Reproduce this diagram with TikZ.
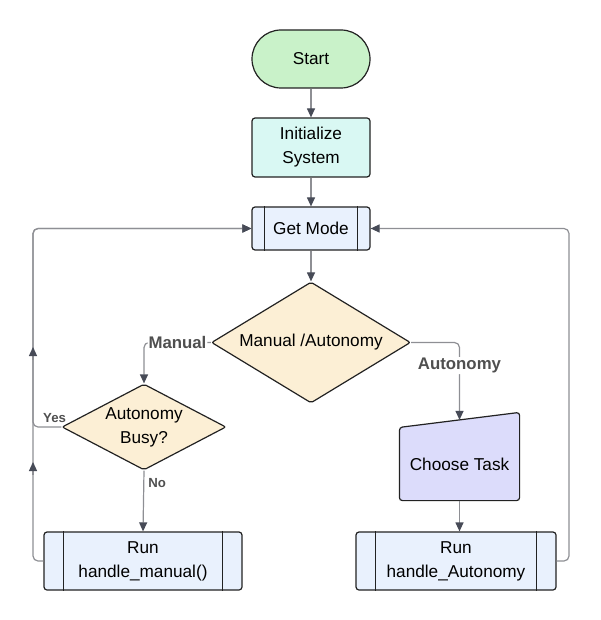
\documentclass[tikz,border=0pt]{standalone}
\usepackage{fontspec}
\setmainfont{Liberation Sans}
\usetikzlibrary{shapes.geometric,arrows.meta,calc}
\definecolor{startc}{HTML}{C9F2C9}
\definecolor{initc}{HTML}{D9F8F3}
\definecolor{subc}{HTML}{E9F1FD}
\definecolor{diac}{HTML}{FCEFD5}
\definecolor{taskc}{HTML}{DCDCFB}
\definecolor{bordc}{HTML}{222222}
\definecolor{linec}{HTML}{8E8F94}
\definecolor{tipc}{HTML}{474B57}
\definecolor{labc}{HTML}{4F4F4F}
\begin{document}
\begin{tikzpicture}[x=1pt,y=-1pt,
  base/.style={draw=bordc,line width=1.2pt,inner sep=0pt,align=center,
    font=\fontsize{17.2}{24}\selectfont},
  term/.style={base,fill=startc,rounded corners=29pt,minimum width=118pt,minimum height=58pt},
  proc/.style={base,fill=initc,rounded corners=3pt,minimum width=118pt,minimum height=59pt},
  subr/.style={base,fill=subc,rounded corners=3pt,minimum height=58pt},
  dia/.style={base,diamond,fill=diac,rounded corners=2pt},
  conn/.style={draw=linec,line width=1.2pt,rounded corners=5pt,
    -{Triangle[length=9pt,width=8pt,color=tipc]}},
  lab/.style={font=\fontsize{16.8}{20}\selectfont\bfseries,text=labc,fill=white,inner sep=1pt},
  slab/.style={font=\fontsize{13.2}{15}\selectfont\bfseries,text=labc,inner sep=1pt}
]
\useasboundingbox (0,0) rectangle (600,620);

\node[term] (start) at (311,59) {Start};
\node[proc] (init) at (311,147.5) {Initialize\\System};
\node[subr,minimum width=118pt,minimum height=43pt] (gm) at (311,228.5) {Get Mode};
\node[dia,aspect=1.65,minimum width=199pt,minimum height=121pt] (mode) at (311,342.5) {Manual /Autonomy};
\node[dia,aspect=1.9,minimum width=164pt,minimum height=86pt] (busy) at (144,427) {Autonomy\\Busy?};
\node[base,draw=none,minimum width=119pt,minimum height=72pt] (ct) at (459.5,464) {};
\node[subr,minimum width=198pt] (rm) at (143,561) {Run\\handle\_manual()};
\node[subr,minimum width=200pt] (ra) at (456,561) {Run\\handle\_Autonomy};

% choose task shape
\filldraw[fill=taskc,draw=bordc,line width=1.2pt,rounded corners=3pt] (ct.south west) -- (ct.north west) -- ($(ct.north east)+(0,-15)$) -- (ct.south east) -- cycle;
\node[font=\fontsize{17.2}{24}\selectfont] (cttext) at (ct) {Choose Task};
\coordinate (cttop) at ($(ct.north)+(0,-7.5)$);

% subroutine inner bars
\foreach \n/\d in {gm/13,rm/20,ra/20}{
  \draw[bordc,line width=1.2pt] ($(\n.north west)+(\d,0)$) -- ($(\n.south west)+(\d,0)$);
  \draw[bordc,line width=1.2pt] ($(\n.north east)+(-\d,0)$) -- ($(\n.south east)+(-\d,0)$);
}

\coordinate (Lt) at (33,228.5);
\coordinate (Rt) at (569,228.5);
\coordinate (rain) at (ct.south |- ra.north);

\draw[conn] (start) -- (init);
\draw[conn] (init) -- (gm);
\draw[conn] (gm) -- (mode);
\draw[conn] (mode.west) -| node[lab,pos=0.25] {Manual} (busy.north);
\draw[conn] (mode.east) -| node[lab,pos=0.65] {Autonomy} (cttop);
\draw[conn] (busy.south) -- node[slab,pos=0.2,anchor=west,xshift=3pt] {No} (rm.north);
\draw[conn] (busy.west) -| node[slab,pos=0.12,anchor=south,yshift=3pt] {Yes} (Lt) -- (gm.west);
\draw[conn] (rm.west) -| (Lt) -- (gm.west);
\draw[conn] (ra.east) -| (Rt) -- (gm.east);
\draw[conn] (ct.south) -- (rain);

% mid arrowheads on the left return line
\coordinate (m1a) at (33,360);
\coordinate (m1b) at (33,347);
\coordinate (m2a) at (33,475);
\coordinate (m2b) at (33,462);
\draw[conn] (m1a) -- (m1b);
\draw[conn] (m2a) -- (m2b);
\end{tikzpicture}
\end{document}
